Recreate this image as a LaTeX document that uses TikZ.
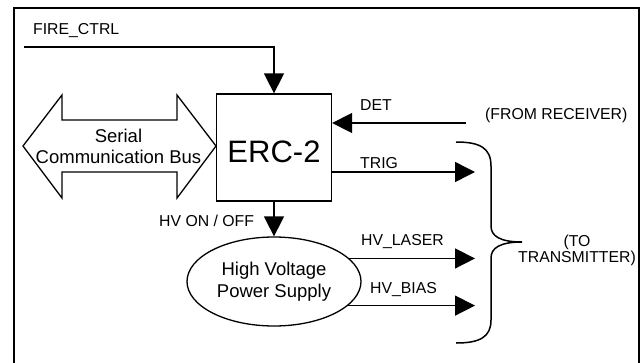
\documentclass[tikz,border=0pt]{standalone}
\usepackage{fontspec}
\setmainfont{Liberation Sans}
\usetikzlibrary{arrows.meta,shapes.geometric}
\begin{document}
\begin{tikzpicture}[x=1pt,y=-1pt,
  lbl/.style={font=\fontsize{15.8}{16.5}\selectfont, inner sep=0pt, anchor=base west},
  sig/.style={line width=1.5pt, -{Triangle[length=20pt,width=20pt]}},
  outline/.style={draw, line width=1.3pt},
  big/.style={font=\fontsize{18.5}{21.5}\selectfont}]
\useasboundingbox (0,0) rectangle (643,362);
\begin{scope}
\clip (0,0) rectangle (643,362);
\draw[line width=1.8pt] (14,8) rectangle (639,380);
\end{scope}

% ERC-2 block
\node[outline, minimum width=115pt, minimum height=107pt, inner sep=0pt,
      font=\fontsize{31}{34}\selectfont, text height=29pt, text depth=0pt] (erc) at (274,147.5) {ERC-2};

% serial bus double arrow
\draw[line width=1.3pt, line join=miter] (23,146) -- (62,95) -- (62,120) -- (177,120) -- (177,95) -- (216,146)
  -- (177,198) -- (177,172) -- (62,172) -- (62,198) -- cycle;
\node[big, align=center, inner sep=0pt] (bus) at (118.5,146.5) {Serial\\Communication Bus};

% HV power supply
\node[outline, ellipse, minimum width=174pt, minimum height=89pt, inner sep=0pt, big, align=center] (hv) at (274,281.5) {High Voltage\\Power Supply};

% coordinates
\coordinate (fc) at (24,47);
\coordinate (detsrc) at (466,123);
\coordinate (trigend) at (475,172);
\coordinate (laserend) at (475,258);
\coordinate (biasend) at (475,306);

% connectors
\draw[sig] (fc) -| (erc.north);
\draw[sig] (detsrc) -- (detsrc -| erc.east);
\draw[sig] (erc.east |- trigend) -- (trigend);
\draw[sig] (erc.south) -- (hv.north);
\draw[sig] (hv.17.6) -- (hv.17.6 -| laserend);
\draw[sig] (hv.-18.6) -- (hv.-18.6 -| biasend);

% brace
\draw[line width=1.5pt] (456,142) .. controls (480,142) and (491,148) .. (491,166) -- (491,226)
  .. controls (491,236) and (500,242) .. (522,242)
  .. controls (500,242) and (491,248) .. (491,258) -- (491,320)
  .. controls (491,337) and (480,343) .. (456,343);

% labels
\node[lbl] (firelbl) at (33,34) {FIRE\_CTRL};
\node[lbl] (detlbl) at (360,110) {DET};
\node[lbl] (fromrx) at (485,119) {(FROM RECEIVER)};
\node[lbl] (triglbl) at (360,168) {TRIG};
\node[lbl] (hvonoff) at (159,226) {HV ON / OFF};
\node[lbl] (laserlbl) at (361,245) {HV\_LASER};
\node[lbl] (biaslbl) at (370,293) {HV\_BIAS};
\node[lbl, anchor=center, align=center] (totx) at (577,250.5) {(TO\\TRANSMITTER)};
\end{tikzpicture}
\end{document}
